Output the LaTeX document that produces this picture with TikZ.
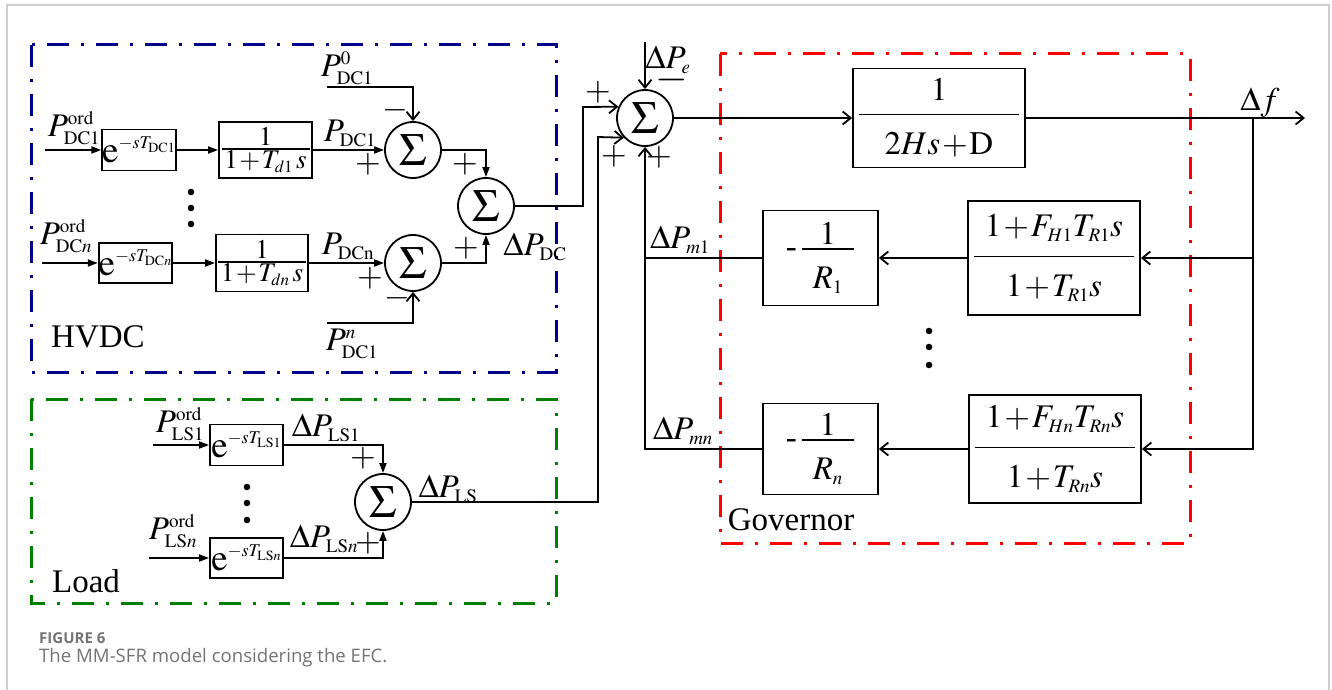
\documentclass[tikz,border=0pt]{standalone}
\usepackage{amsmath}
\usepackage{mathptmx}
\usepackage[no-math]{fontspec}
\setmainfont{Liberation Serif}
\newfontfamily\capfont{Open Sans}
\usetikzlibrary{arrows.meta,positioning}
\definecolor{hvdcblue}{RGB}{0,0,139}
\definecolor{loadgreen}{RGB}{0,128,0}
\definecolor{govred}{RGB}{255,0,0}
\definecolor{framegray}{RGB}{205,205,205}
\definecolor{capgray}{RGB}{115,115,115}
\DeclareMathSizes{33}{33}{19}{14}
\DeclareMathSizes{27}{27}{17}{12}
\DeclareMathSizes{37}{37}{18}{14}
\newcommand{\bigfs}{\fontsize{33}{38}\selectfont}
\newcommand{\lagfs}{\fontsize{27}{30}\selectfont}
\newcommand{\dlyfs}{\fontsize{37}{40}\selectfont}
\newcommand{\sigfs}{\fontsize{46}{50}\selectfont}
% fraction inside a block: num, den, depth under num, height over den
\newcommand{\blkfrac}[4]{\frac{\textstyle\rule[-#3]{0pt}{0pt}#1}{\textstyle\rule{0pt}{#4}#2}}

\begin{document}
\medmuskip=1mu
\begin{tikzpicture}[x=1pt, y=-1pt, font=\bigfs,
    wire/.style={line width=1.8pt},
    arr/.style={wire, -{Triangle[length=10pt,width=7pt]}},
    oarr/.style={wire, -{Straight Barb[length=8pt,width=13pt]}},
    blk/.style={draw, line width=1.8pt, inner sep=0pt, align=center},
    sumc/.style={circle, draw, line width=1.8pt, minimum size=56pt, inner sep=0pt, font=\sigfs},
    lbl/.style={inner sep=0pt},
    grp/.style={line width=3pt, dash pattern=on 22pt off 12pt on 3pt off 12pt},
    capnode/.style={inner sep=0pt, anchor=west, text=capgray}
  ]
  \useasboundingbox (0,0) rectangle (1332,690);
  \draw[framegray, line width=1.5pt] (7,690) -- (7,5) -- (1329,5) -- (1329,690);

  % group frames
  \draw[grp, hvdcblue] (31,45) rectangle (556,372);
  \draw[grp, loadgreen] (31,399) rectangle (556,603);
  \draw[grp, govred] (720,54) rectangle (1190,543);

  % HVDC
  \coordinate (in1) at (45,150);
  \coordinate (inn) at (42,263);
  \node[blk, minimum width=72pt, minimum height=41pt, font=\dlyfs] (d1) at (139,150) {$\mathrm{e}^{-sT_{\mathrm{DC1}}}$};
  \node[blk, minimum width=73pt, minimum height=40pt, font=\dlyfs] (dn) at (135.5,263) {$\mathrm{e}^{-sT_{\mathrm{DC}n}}$};
  \node[blk, minimum width=93pt, minimum height=56pt, font=\lagfs] (l1) at (265.5,150) {$\blkfrac{1}{\makebox[88pt]{$1+T_{d1}\,s$}}{0pt}{0pt}$};
  \node[blk, minimum width=92pt, minimum height=57pt, font=\lagfs] (ln) at (262,263) {$\blkfrac{1}{\makebox[88pt]{$1+T_{dn}\,s$}}{0pt}{0pt}$};
  \node[sumc] (s1) at (413,150) {$\Sigma$};
  \node[sumc] (s2) at (486,206) {$\Sigma$};
  \node[sumc] (s3) at (413,263) {$\Sigma$};
  \coordinate (p0) at (327,87);
  \coordinate (pn) at (327,323);
  \coordinate (dcup) at (583,107);

  \draw[arr] (in1) -- (d1);
  \draw[arr] (d1) -- (l1);
  \draw[arr] (l1) -- (s1);
  \draw[arr] (inn) -- (dn);
  \draw[arr] (dn) -- (ln);
  \draw[arr] (ln) -- (s3);
  \draw[oarr] (p0) -| (s1);
  \draw[oarr] (pn) -| (s3);
  \draw[arr] (s1) -| (s2);
  \draw[arr] (s3) -| (s2);

  \node[lbl] (pord1) at (74,128) {$P^{\mathrm{ord}}_{\mathrm{DC1}}$};
  \node[lbl] (pordn) at (66,236) {$P^{\mathrm{ord}}_{\mathrm{DC}n}$};
  \node[lbl] (pdc1) at (350,133) {$P_{\mathrm{DC1}}$};
  \node[lbl] (pdcn) at (348,246) {$P_{\mathrm{DCn}}$};
  \node[lbl] (pzero) at (347,68) {$P^{0}_{\mathrm{DC1}}$};
  \node[lbl] (pnth) at (352,344) {$P^{n}_{\mathrm{DC1}}$};
  \node[lbl] (dpdc) at (535,247) {$\Delta P_{\mathrm{DC}}$};
  \node[lbl] (hvdc) at (98,337) {HVDC};
  \node[lbl] (s1m) at (395,110) {$-$};
  \node[lbl] (s1p) at (368,164) {$+$};
  \node[lbl] (s2pa) at (465,164) {$+$};
  \node[lbl] (s2pb) at (466,248) {$+$};
  \node[lbl] (s3p) at (370,278) {$+$};
  \node[lbl] (s3m) at (397,298) {$-$};
  \foreach \yy in {192,208,224} \fill (191,\yy) circle (3.3pt);

  % Load
  \coordinate (lin1) at (153,445);
  \coordinate (linn) at (149,558);
  \node[blk, minimum width=73pt, minimum height=41pt, font=\dlyfs] (e1) at (246.5,445) {$\mathrm{e}^{-sT_{\mathrm{LS1}}}$};
  \node[blk, minimum width=73pt, minimum height=40pt, font=\dlyfs] (en) at (246.5,558) {$\mathrm{e}^{-sT_{\mathrm{LS}n}}$};
  \node[sumc] (ls) at (383,502) {$\Sigma$};
  \draw[arr] (lin1) -- (e1);
  \draw[arr] (linn) -- (en);
  \draw[arr] (e1) -| (ls);
  \draw[arr] (en) -| (ls);

  \node[lbl] (lsord1) at (180,424) {$P^{\mathrm{ord}}_{\mathrm{LS1}}$};
  \node[lbl] (lsordn) at (173,531) {$P^{\mathrm{ord}}_{\mathrm{LS}n}$};
  \node[lbl] (dpls1) at (326,428) {$\Delta P_{\mathrm{LS1}}$};
  \node[lbl] (dplsn) at (324,539) {$\Delta P_{\mathrm{LS}n}$};
  \node[lbl] (dpls) at (448,489) {$\Delta P_{\mathrm{LS}}$};
  \node[lbl] (lsp1) at (363,458) {$+$};
  \node[lbl] (lsp2) at (368,543) {$+$};
  \node[lbl] (load) at (86,581) {Load};
  \foreach \yy in {487,503,520} \fill (247,\yy) circle (3.3pt);

  % main sum and plant
  \node[sumc] (ms) at (645,118) {$\Sigma$};
  \coordinate (pe) at (645,42);
  \coordinate (lsup) at (598,137);
  \draw[oarr] (pe) -- (ms);
  \draw[oarr] (s2) -| (dcup) -- (ms.157);
  \draw[oarr] (ls) -| (lsup) -- (ms.223);
  \node[lbl] (dpe) at (668,60) {$\Delta P_e$};
  \node[lbl, font=\fontsize{42}{44}\selectfont] (pem) at (672,80) {$-$};
  \node[lbl] (msp1) at (598,92) {$+$};
  \node[lbl] (msp2) at (614,156) {$+$};
  \node[lbl] (msp3) at (659,157) {$+$};

  \node[blk, minimum width=172pt, minimum height=99pt] (plant) at (939,118) {$\blkfrac{1}{\makebox[160pt]{$2Hs+\mathrm{D}$}}{12pt}{38pt}$};
  \coordinate (fout) at (1305,118);
  \coordinate (fbr) at (1253,118);
  \draw[oarr] (ms) -- (plant);
  \draw[oarr] (plant) -- (fout);
  \node[lbl] (df) at (1260,103) {$\Delta f$};

  % Governor
  \node[blk, minimum width=172pt, minimum height=114pt] (g1) at (1054,258) {$\blkfrac{\makebox[160pt]{$1+F_{H1}T_{R1}s$}}{1+T_{R1}s}{18pt}{38pt}$};
  \node[blk, minimum width=172pt, minimum height=108pt] (gn) at (1055,449) {$\blkfrac{\makebox[160pt]{$1+F_{Hn}T_{Rn}s$}}{1+T_{Rn}s}{18pt}{38pt}$};
  \node[blk, minimum width=115pt, minimum height=95pt] (r1) at (820.5,258) {$\text{-}\,\blkfrac{1}{\makebox[52pt]{$R_1$}}{0pt}{38pt}$};
  \node[blk, minimum width=115pt, minimum height=91pt] (rn) at (820.5,449) {$\text{-}\,\blkfrac{1}{\makebox[52pt]{$R_n$}}{0pt}{38pt}$};
  \draw[oarr] (fbr) |- (gn);
  \draw[oarr] (fbr |- g1) -- (g1);
  \draw[oarr] (g1) -- (r1);
  \draw[oarr] (gn) -- (rn);
  \draw[oarr] (rn) -| (ms);
  \draw[wire] (r1) -- (r1 -| ms);
  \node[lbl] (dpm1) at (680,240) {$\Delta P_{m1}$};
  \node[lbl] (dpmn) at (683,431) {$\Delta P_{mn}$};
  \node[lbl] (gov) at (791,520) {Governor};
  \foreach \yy in {331,347,365} \fill (929,\yy) circle (3.3pt);

  % caption
  \node[capnode, font=\capfont\fontsize{15}{18}\selectfont\bfseries] (figno) at (39,638) {FIGURE 6};
  \node[capnode, font=\capfont\fontsize{18.6}{22}\selectfont] (captext) at (39,658) {The MM-SFR model considering the EFC.};
\end{tikzpicture}
\end{document}
